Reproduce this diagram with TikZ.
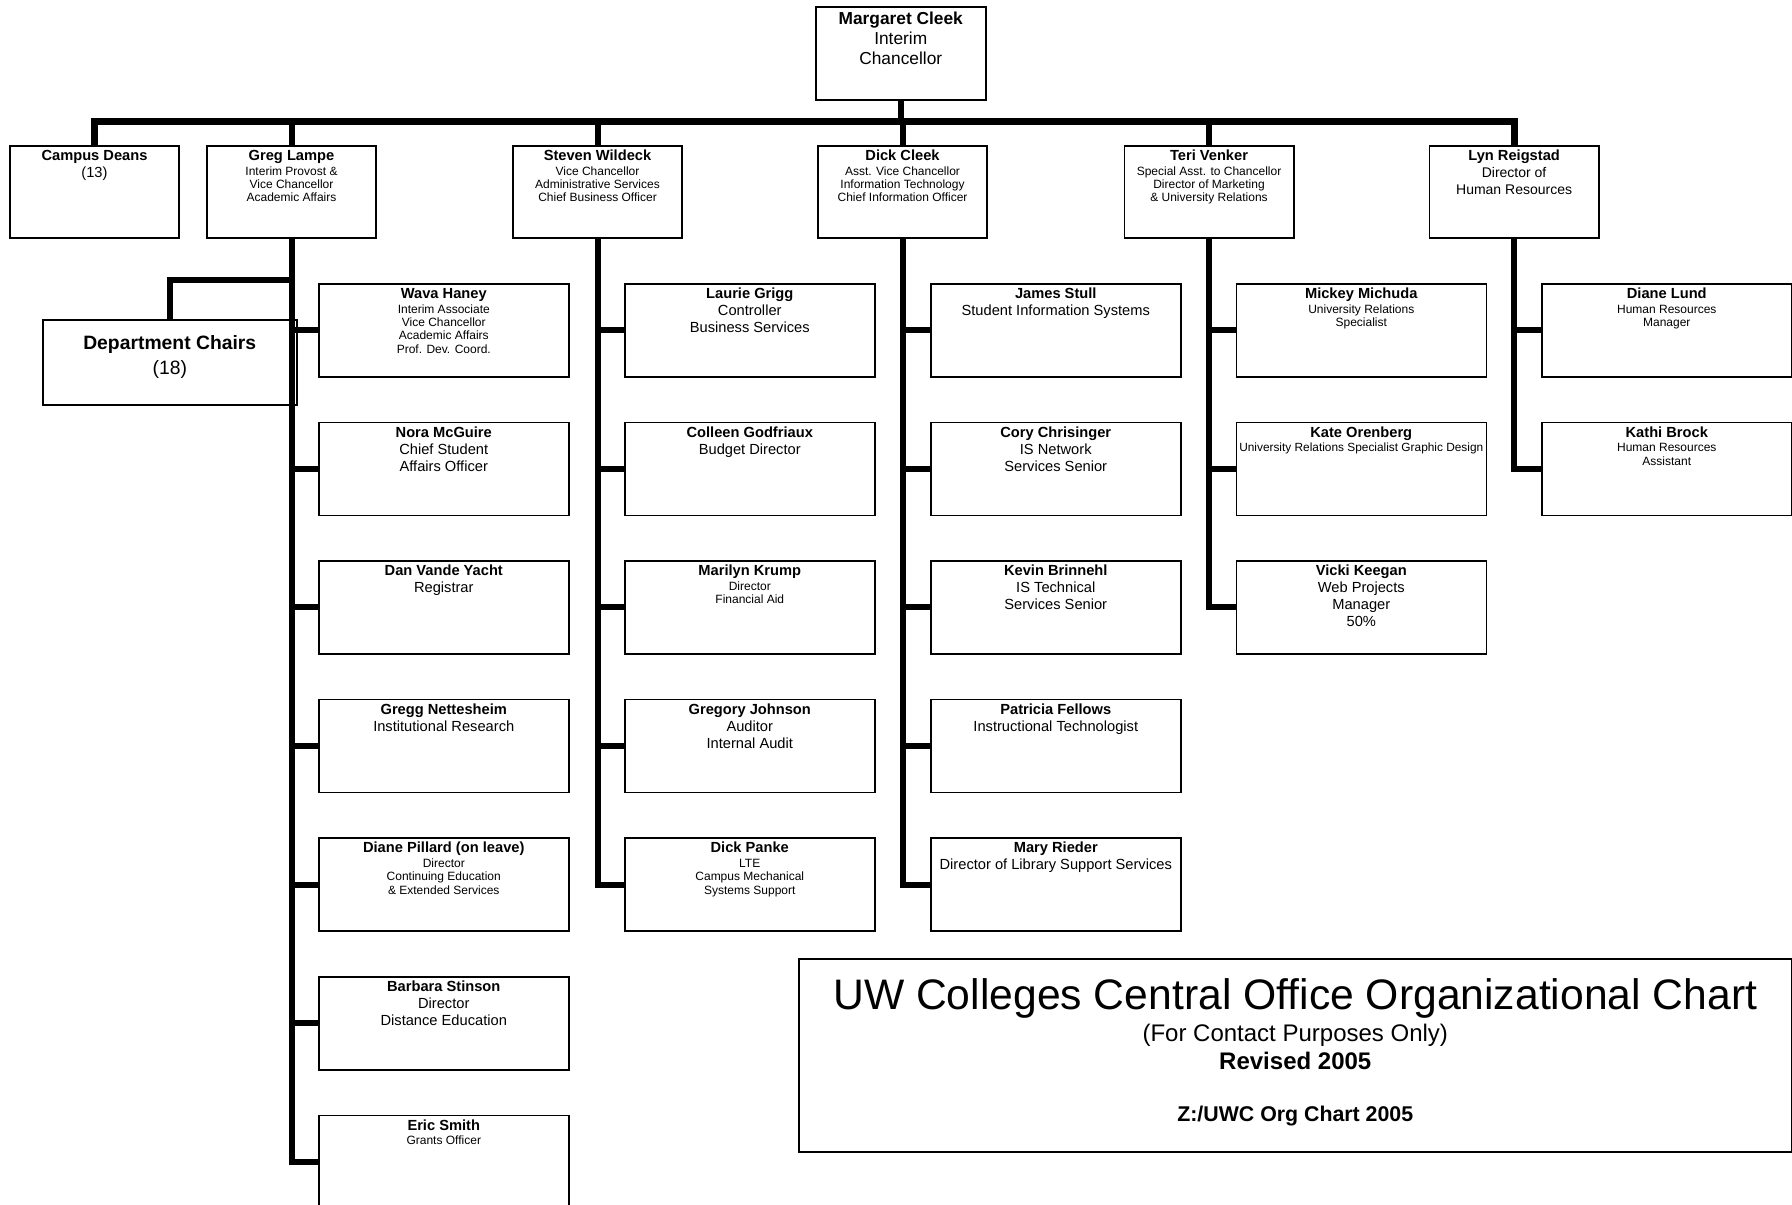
\documentclass[tikz,border=0pt]{standalone}
\usepackage{fontspec}
\setmainfont{Liberation Sans}
\usepackage{tikz}

\newcommand{\nm}[1]{{\bfseries\fontsize{11}{12}\selectfont #1}}
\newcommand{\smalltxt}{\fontsize{9}{10}\selectfont}
\newcommand{\midtxt}{\fontsize{11}{12.75}\selectfont}
\newcommand{\lastline}{\par}

\begin{document}
\begin{tikzpicture}[x = 0.75pt, y = -0.75pt,
  box/.style = {draw, line width = 1.15pt, anchor = north west, inner sep = 0pt, align = flush center},
  head/.style = {box, text width = 127.1pt, text height = 11pt, text depth = 58pt},
  staff/.style = {box, text width = 187.5pt, text height = 11pt, text depth = 58.75pt},
  link/.style = {line width = 4.5pt},
  bus/.style = {line width = 5.25pt}]

\fill[white] (0, 0) rectangle (1792, 1205);
\useasboundingbox (0, 0) rectangle (1792, 1205);

\def\rowtop{144.4}
\def\rowstep{138.6}

% Chancellor
\node[box, text width = 127.5pt, text height = 13.5pt, text depth = 56.25pt, font = \fontsize{13}{15}\selectfont] (chanc) at (815, 6) {\textbf{Margaret Cleek}\\Interim\\Chancellor};

% Direct reports
\node[head] (deans) at (9, 145) {\nm{Campus Deans}\\\midtxt (13)\lastline};
\node[head] (lampe) at (206, 145) {\nm{Greg Lampe}\\[1pt]\smalltxt Interim Provost \&\\Vice Chancellor\\Academic Affairs\lastline};
\node[head] (wildeck) at (512, 145) {\nm{Steven Wildeck}\\[1pt]\smalltxt Vice Chancellor\\Administrative Services\\Chief Business Officer\lastline};
\node[head] (cleek) at (817, 145) {\nm{Dick Cleek}\\[1pt]\smalltxt Asst. Vice Chancellor\\Information Technology\\Chief Information Officer\lastline};
\node[head] (venker) at (1123.5, 145) {\nm{Teri Venker}\\[1pt]\smalltxt Special Asst. to Chancellor\\Director of Marketing\\\& University Relations\lastline};
\node[head] (reigstad) at (1428.6, 145) {\nm{Lyn Reigstad}\\\fontsize{10.5}{12.75}\selectfont Director of\\Human Resources\lastline};

% Academic Affairs
\node[box, text width = 190.5pt, text height = 22.5pt, text depth = 41.25pt, font = \bfseries\fontsize{14.5}{18.75}\selectfont] (chairs) at (42, 319) {Department Chairs\\\mdseries (18)};

\foreach \i/\txt in {1/{\nm{Wava Haney}\\[1pt]\smalltxt Interim Associate\\Vice Chancellor\\Academic Affairs\\Prof. Dev. Coord.},
  2/{\nm{Nora McGuire}\\\midtxt Chief Student\\Affairs Officer},
  3/{\nm{Dan Vande Yacht}\\\midtxt Registrar},
  4/{\nm{Gregg Nettesheim}\\\midtxt Institutional Research},
  5/{\nm{Diane Pillard (on leave)}\\[1pt]\smalltxt Director\\Continuing Education\\\& Extended Services},
  6/{\nm{Barbara Stinson}\\\midtxt Director\\Distance Education},
  7/{\nm{Eric Smith}\\[1pt]\smalltxt Grants Officer}}
  \node[staff] (g\i) at (318, {\rowtop + \rowstep * \i}) {\txt\lastline};

% Administrative Services
\foreach \i/\txt in {1/{\nm{Laurie Grigg}\\\midtxt Controller\\Business Services},
  2/{\nm{Colleen Godfriaux}\\\midtxt Budget Director},
  3/{\nm{Marilyn Krump}\\[1pt]\smalltxt Director\\Financial Aid},
  4/{\nm{Gregory Johnson}\\\midtxt Auditor\\Internal Audit},
  5/{\nm{Dick Panke}\\[1pt]\smalltxt LTE\\Campus Mechanical\\Systems Support}}
  \node[staff] (s\i) at (624, {\rowtop + \rowstep * \i}) {\txt\lastline};

% Information Technology
\foreach \i/\txt in {1/{\nm{James Stull}\\\midtxt Student Information Systems},
  2/{\nm{Cory Chrisinger}\\\midtxt IS Network\\Services Senior},
  3/{\nm{Kevin Brinnehl}\\\midtxt IS Technical\\Services Senior},
  4/{\nm{Patricia Fellows}\\\midtxt Instructional Technologist},
  5/{\nm{Mary Rieder}\\\midtxt Director of Library Support Services}}
  \node[staff] (d\i) at (930, {\rowtop + \rowstep * \i}) {\txt\lastline};

% Marketing
\foreach \i/\txt in {1/{\nm{Mickey Michuda}\\[1pt]\smalltxt University Relations\\Specialist},
  2/{\nm{Kate Orenberg}\\[1pt]\fontsize{8.9}{10}\selectfont\mbox{University Relations Specialist Graphic Design}},
  3/{\nm{Vicki Keegan}\\\midtxt Web Projects\\Manager\\50\%}}
  \node[staff] (t\i) at (1235.5, {\rowtop + \rowstep * \i}) {\txt\lastline};

% Human Resources
\foreach \i/\txt in {1/{\nm{Diane Lund}\\[1pt]\smalltxt Human Resources\\Manager},
  2/{\nm{Kathi Brock}\\[1pt]\smalltxt Human Resources\\Assistant}}
  \node[staff] (l\i) at (1541, {\rowtop + \rowstep * \i}) {\txt\lastline};

% Title
\node[box, text width = 744.75pt, text height = 38.25pt, text depth = 106.5pt] (title) at (798, 958) {\fontsize{32}{38}\selectfont UW Colleges Central Office Organizational Chart\\\fontsize{18}{24}\selectfont (For Contact Purposes Only)\\[-3pt]\bfseries Revised 2005\\[27pt]\fontsize{16}{24}\selectfont Z:/UWC Org Chart 2005};

% Connectors
\coordinate (bus) at (0, 122);
\draw[bus] (deans.north) |- (reigstad.north |- bus) -- (reigstad.north);
\draw[link] (chanc.south) -- (chanc.south |- bus);
\foreach \n in {lampe, wildeck, cleek, venker}
  \draw[link] (\n.north) -- (\n.north |- bus);

\draw[link] (lampe.south |- 0, 280) -| (chairs.north);
\draw[link] (lampe.south) |- (g7.west);
\foreach \i in {1,...,6}
  \draw[link] (lampe.south |- g\i.west) -- (g\i.west);

\draw[link] (wildeck.south) |- (s5.west);
\foreach \i in {1,...,4}
  \draw[link] (wildeck.south |- s\i.west) -- (s\i.west);

\draw[link] (cleek.south) |- (d5.west);
\foreach \i in {1,...,4}
  \draw[link] (cleek.south |- d\i.west) -- (d\i.west);

\draw[link] (venker.south) |- (t3.west);
\foreach \i in {1,2}
  \draw[link] (venker.south |- t\i.west) -- (t\i.west);

\draw[link] (reigstad.south) |- (l2.west);
\draw[link] (reigstad.south |- l1.west) -- (l1.west);

\end{tikzpicture}
\end{document}
